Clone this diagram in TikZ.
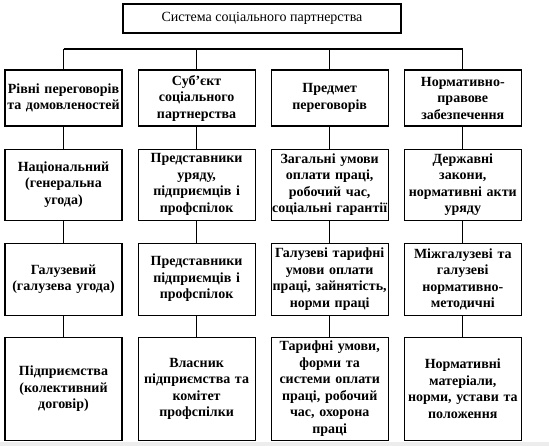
\documentclass[tikz,border=0pt]{standalone}
\usepackage{fontspec}
\setmainfont{Liberation Serif}
\usetikzlibrary{positioning}

\begin{document}
\begin{tikzpicture}[x=1pt, y=-1pt, font=\fontsize{14}{16.5}\selectfont,
  line width=1.1pt,
  sys/.style={draw, minimum width=278pt, minimum height=29pt, inner sep=2pt},
  cell/.style={draw, font=\fontsize{14}{16.5}\selectfont\bfseries, text width=116pt,
    inner xsep=0.5pt, inner ysep=1pt, align=center},
  link/.style={draw}]
\useasboundingbox (0,0) rectangle (549,446);
\fill[black!7] (0,442) rectangle (549,446);
\node[sys] (sys) at (262,18.5) {Система соціального партнерства};
\coordinate (bar) at (262,49);
% headings
\node[cell, minimum height=56pt] (h1) at (63.5,98) {Рівні переговорів\\ та домовленостей};
\node[cell, minimum height=56pt, right=15pt of h1] (h2) {Суб’єкт\\ соціального\\ партнерства};
\node[cell, minimum height=56pt, right=15pt of h2] (h3) {Предмет\\ переговорів};
\node[cell, minimum height=56pt, right=15pt of h3] (h4) {Нормативно-\\ правове\\ забезпечення};
% second row
\node[cell, minimum height=71pt, below=22pt of h1] (a1) {Національний\\ (генеральна\\ угода)};
\node[cell, minimum height=71pt, below=22pt of h2] (a2) {Представники\\ уряду,\\ підприємців і\\ профспілок};
\node[cell, minimum height=71pt, below=22pt of h3] (a3) {Загальні умови\\ оплати праці,\\ робочий час,\\ соціальні гарантії};
\node[cell, minimum height=71pt, below=22pt of h4] (a4) {Державні\\ закони,\\ нормативні акти\\ уряду};
% third row
\node[cell, minimum height=72pt, below=22pt of a1] (b1) {Галузевий\\ (галузева угода)};
\node[cell, minimum height=72pt, below=22pt of a2] (b2) {Представники\\ підприємців і\\ профспілок};
\node[cell, minimum height=72pt, below=22pt of a3] (b3) {Галузеві тарифні\\ умови оплати\\ праці, зайнятість,\\ норми праці};
\node[cell, minimum height=72pt, below=22pt of a4] (b4) {Міжгалузеві та\\ галузеві\\ нормативно-\\ методичні};
% fourth row
\node[cell, minimum height=103pt, below=21pt of b1] (c1) {Підприємства\\ (колективний\\ договір)};
\node[cell, minimum height=103pt, below=21pt of b2] (c2) {Власник\\ підприємства та\\ комітет\\ профспілки};
\node[cell, minimum height=103pt, below=21pt of b3] (c3) {Тарифні умови,\\ форми та\\ системи оплати\\ праці, робочий\\ час, охорона\\ праці};
\node[cell, minimum height=103pt, below=21pt of b4] (c4) {Нормативні\\ матеріали,\\ норми, устави та\\ положення};
% connectors
\draw[link] (h1.north |- bar) -- (h4.north |- bar);
\foreach \i in {1,...,4} {
  \draw[link] (h\i.north |- bar) -- (h\i.north);
  \draw[link] (h\i) -- (a\i);
  \draw[link] (a\i) -- (b\i);
  \draw[link] (b\i) -- (c\i);
}
\end{tikzpicture}
\end{document}
